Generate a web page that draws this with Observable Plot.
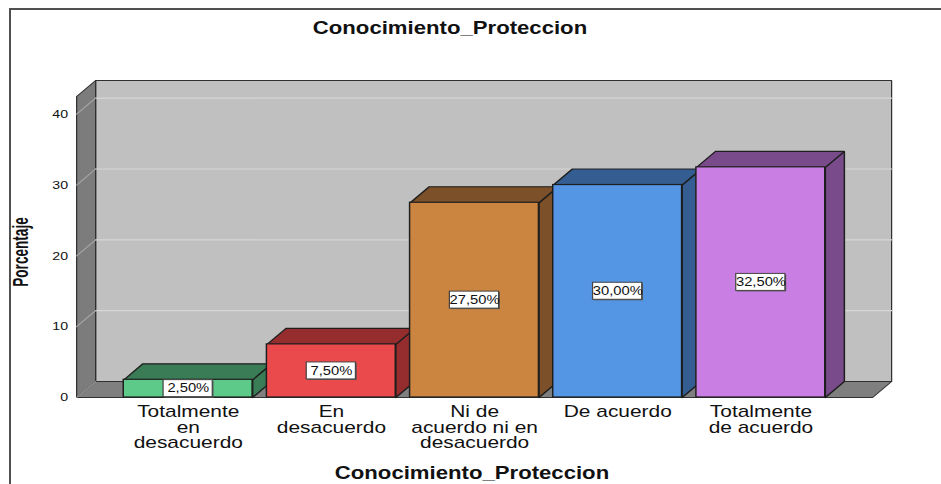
<!DOCTYPE html>
<html>
<head>
<meta charset="utf-8">
<script src="https://cdn.jsdelivr.net/npm/d3@7"></script>
<script src="https://cdn.jsdelivr.net/npm/@observablehq/plot@0.6"></script>
<style>
  body { margin: 0; background: #fff; }
  #wrap { position: relative; width: 941px; height: 484px; overflow: hidden; font-family: "Liberation Sans", Arial, sans-serif; color: #111; }
  #frame { position: absolute; left: 9px; top: 8px; width: 1000px; height: 600px; border-top: 2px solid #505050; border-left: 2px solid #505050; }
  #chart { position: absolute; left: 0; top: 0; }
  .ttl { position: absolute; font-weight: bold; font-size: 18px; line-height: 18px; white-space: nowrap; }
  #title { left: 450px; top: 19px; transform: translateX(-50%) scaleX(1.23); }
  #xtitle { left: 472px; top: 464px; transform: translateX(-50%) scaleX(1.23); }
  #ytitle { left: 21px; top: 252px; font-size: 17px; line-height: 17px; transform: translate(-50%, -50%) scaleX(1.3) rotate(-90deg) scaleX(0.8); }
</style>
</head>
<body>
<div id="wrap">
  <div id="frame"></div>
  <div id="chart"></div>
  <div id="title" class="ttl">Conocimiento_Proteccion</div>
  <div id="xtitle" class="ttl">Conocimiento_Proteccion</div>
  <div id="ytitle" class="ttl">Porcentaje</div>
</div>
<script>
// ---- data ----
const categories = ["Totalmente en desacuerdo", "En desacuerdo", "Ni de acuerdo ni en desacuerdo", "De acuerdo", "Totalmente de acuerdo"];
const tickLabels = ["Totalmente\nen\ndesacuerdo", "En\ndesacuerdo", "Ni de\nacuerdo ni en\ndesacuerdo", "De acuerdo", "Totalmente\nde acuerdo"];
const percentages = [2.5, 7.5, 27.5, 30.0, 32.5];
const valueLabels = ["2,50%", "7,50%", "27,50%", "30,00%", "32,50%"];
const yTicks = [0, 10, 20, 30, 40];
const frontColors = ["#5ECA8A", "#EB4A4C", "#CC8540", "#5596E4", "#C97EE4"];
const sideColors  = ["#397C55", "#952D2F", "#7C5129", "#345D91", "#7A4B8A"];

// ---- geometry (image is stretched horizontally by S) ----
const S = 1.23;
const W = 941 / S;
const H = 484;
const xDomain = [-0.78, 4.78];
const yDomain = [0, 42.5];
const HALF = 0.45;         // half bar width, in category units
const DX = 0.1327;         // depth offset, category units
const DY = 2.26;           // depth offset, percent units
const marginLeft = 76 / S, marginRight = W - 872 / S, marginTop = 96, marginBottom = 87;

const bars = categories.map((c, i) => ({i, c, v: percentages[i], label: valueLabels[i], front: frontColors[i], side: sideColors[i]}));

function poly(id, fill, pts) {
  const closed = pts.concat([pts[0]]);
  return closed.map(([x, y]) => ({id, fill, x, y}));
}

const [x0, x1] = xDomain;
const yMax = yDomain[1];
const walls = [
  ...poly("back", "#C0C0C0", [[x0 + DX, DY], [x1 + DX, DY], [x1 + DX, yMax + DY], [x0 + DX, yMax + DY]]),
  ...poly("left", "#7C7C7C", [[x0, 0], [x0 + DX, DY], [x0 + DX, yMax + DY], [x0, yMax]]),
  ...poly("floor", "#7F7F7F", [[x0, 0], [x1, 0], [x1 + DX, DY], [x0 + DX, DY]])
];

const backGrid = yTicks.filter(t => t > 0).flatMap(t => [
  {id: "g" + t, x: x0 + DX, y: t + DY}, {id: "g" + t, x: x1 + DX, y: t + DY}
]);
const leftGrid = yTicks.flatMap(t => [
  {id: "l" + t, x: x0, y: t}, {id: "l" + t, x: x0 + DX, y: t + DY}
]);

const barFaces = bars.flatMap(b => [
  ...poly("s" + b.i, b.side, [[b.i + HALF, 0], [b.i + HALF, b.v], [b.i + HALF + DX, b.v + DY], [b.i + HALF + DX, DY]]),
  ...poly("t" + b.i, b.side, [[b.i - HALF, b.v], [b.i + HALF, b.v], [b.i + HALF + DX, b.v + DY], [b.i - HALF + DX, b.v + DY]])
]);

const boxHalfW = (40 / 2) / ((872 - 76) / S / (x1 - x0));
const boxHalfH = 8.5 / ((397 - 96) / (yMax - yDomain[0]));

const plot = Plot.plot({
  width: W,
  height: H,
  marginLeft, marginRight, marginTop, marginBottom,
  x: {domain: xDomain},
  y: {domain: yDomain},
  color: {type: "identity"},
  style: {fontFamily: "'Liberation Sans', Arial, sans-serif", background: "transparent", color: "#111"},
  marks: [
    Plot.line(walls, {x: "x", y: "y", z: "id", fill: "fill", stroke: "#303030", strokeWidth: 1}),
    Plot.line(backGrid, {x: "x", y: "y", z: "id", stroke: "#D6D6D6", strokeWidth: 1.2}),
    Plot.line(leftGrid, {x: "x", y: "y", z: "id", stroke: "#A6A6A6", strokeWidth: 1}),
    Plot.line(barFaces, {x: "x", y: "y", z: "id", fill: "fill", stroke: "#1E1E1E", strokeWidth: 1.2, strokeLinejoin: "miter"}),
    Plot.rect(bars, {x1: d => d.i - HALF, x2: d => d.i + HALF, y1: 0, y2: "v", fill: "front", stroke: "#1E1E1E", strokeWidth: 1.2}),
    Plot.rect(bars, {x1: d => d.i - boxHalfW, x2: d => d.i + boxHalfW, y1: d => d.v / 2 - boxHalfH, y2: d => d.v / 2 + boxHalfH, fill: "#555", dx: 1, dy: 1}),
    Plot.rect(bars, {x1: d => d.i - boxHalfW, x2: d => d.i + boxHalfW, y1: d => d.v / 2 - boxHalfH, y2: d => d.v / 2 + boxHalfH, fill: "white", stroke: "#444", strokeWidth: 1}),
    Plot.text(bars, {x: "i", y: d => d.v / 2, text: "label", fontSize: 12, fill: "#111"}),
    Plot.axisY({ticks: yTicks, tickSize: 0, tickPadding: 7, fontSize: 11.5, label: null}),
    Plot.axisX({ticks: bars.map(b => b.i), tickFormat: i => tickLabels[i], tickSize: 0, tickPadding: 9, fontSize: 17, lineHeight: 0.9, label: null})
  ]
});

plot.setAttribute("width", 941);
plot.setAttribute("height", H);
plot.setAttribute("preserveAspectRatio", "none");
plot.style.width = "941px";
plot.style.height = H + "px";
plot.style.maxWidth = "none";
document.getElementById("chart").appendChild(plot);
</script>
</body>
</html>
